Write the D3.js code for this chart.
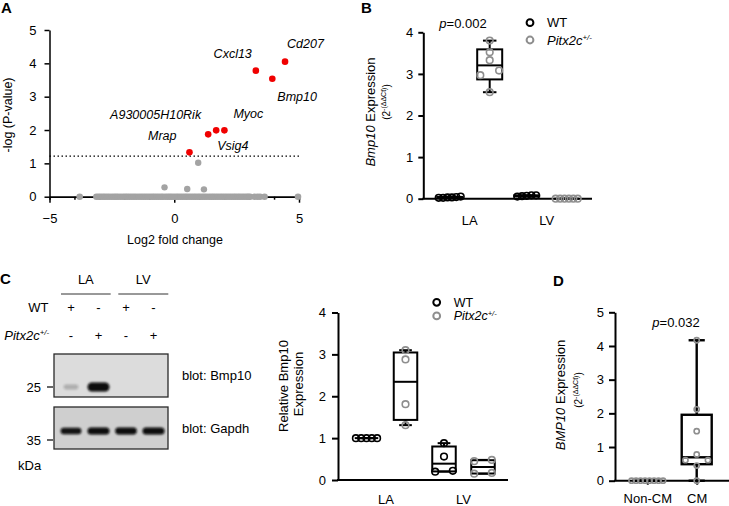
<!DOCTYPE html>
<html>
<head>
<meta charset="utf-8">
<script src="https://cdn.jsdelivr.net/npm/d3@7"></script>
<style>
  body { margin: 0; background: #fff; }
  svg { font-family: Arial, "Liberation Sans", sans-serif; }
</style>
</head>
<body>
<svg width="729" height="506"></svg>
<script>
///////////////////////////////////////////
// Data

// A: volcano plot (log2 fold change, -log P)
var sigGenes = ["Cd207", "Cxcl13", "Bmp10", "Myoc", "A930005H10Rik", "Vsig4", "Mrap"];
var sigFC    = [4.44, 3.27, 3.93, 2.01, 1.68, 1.36, 0.61];
var sigLogP  = [4.05, 3.78, 3.54, 1.99, 1.99, 1.87, 1.33];
var nsFC     = [0.96, -0.39, 0.52, 1.19];
var nsLogP   = [1.02, 0.28, 0.23, 0.22];
var zeroFC   = [-3.79, -3.12, -3.03, -2.95, -2.86, -2.78, -2.69, -2.6, -2.5, -2.41, -2.33,
                -2.25, -2.15, -2.05, -1.96, -1.88, -1.79, -1.7, -1.61, -1.52, -1.42, -1.33,
                -1.24, -1.15, -1.06, -0.97, -0.88, -0.8, -0.71, -0.62, -0.53, -0.45, -0.35,
                -0.26, -0.18, -0.1, -0.01, 0.08, 0.16, 0.25, 0.34, 0.43, 0.51, 0.6, 0.69,
                0.78, 0.86, 0.95, 1.03, 1.12, 1.21, 1.3, 1.4, 1.49, 1.57, 1.66, 1.75, 1.84,
                1.93, 2.02, 2.11, 2.2, 2.29, 2.38, 2.46, 2.55, 2.63, 2.72, 2.81, 2.9, 2.97,
                3.04, 3.22, 3.34, 3.44, 3.62, 4.96];
var pThreshold = 1.22;

// B: Bmp10 qPCR (2^-ddCt)
var tissues = ["LA", "LV"];
var genotypes = ["WT", "Pitx2c"];
var bWT_LA = [0.02, 0.03, 0.05, 0.02, 0.04, 0.03];
var bKO_LA = [3.80, 3.52, 3.33, 3.08, 2.97, 2.56];
var bWT_LV = [0.05, 0.08, 0.07, 0.06, 0.08];
var bKO_LV = [0, 0, 0, 0, 0, 0];
var bPvalue = "0.002";

// C: western blot quantification
var cWT_LA = [1, 1, 1, 1, 1];
var cKO_LA = [3.10, 2.88, 1.81, 1.31];
var cWT_LV = [0.88, 0.56, 0.22, 0.20];
var cKO_LV = [0.48, 0.45, 0.17, 0.15];
var lanes = [1, 2, 3, 4];
var laneWT = ["+", "-", "+", "-"];
var laneKO = ["-", "+", "-", "+"];
var bmp10Band = [0.1, 1, 0, 0];
var gapdhBand = [0.85, 1, 0.95, 1];

// D: human BMP10 qPCR
var cellTypes = ["Non-CM", "CM"];
var dNonCM = [0, 0, 0, 0, 0, 0, 0, 0];
var dCM = [4.17, 2.12, 1.47, 0.78, 0.61, 0.61, 0.45, 0];
var dPvalue = "0.032";

///////////////////////////////////////////
// Setup
var svg = d3.select("svg");
var BLACK = "#000", GREY = "#8e8e8e", RED = "#f00000";
var fmt = d3.format("d");
var defs = svg.append("defs");
defs.append("filter").attr("id", "blur")
  .attr("x", "-50%").attr("y", "-100%").attr("width", "200%").attr("height", "300%")
  .append("feGaussianBlur").attr("stdDeviation", 1.2);

function panelLabel(t, x, y) {
  svg.append("text").attr("x", x).attr("y", y)
    .attr("font-weight", "bold").attr("font-size", 15).text(t);
}

function styleAxis(g, w) {
  g.attr("font-family", null).attr("font-size", null);
  g.select(".domain").attr("stroke-width", w);
  g.selectAll(".tick line").attr("stroke-width", w);
  g.selectAll(".tick text").attr("font-size", 13).attr("fill", BLACK);
}

// rotated y title: parts = [[text, italic]]
function yTitle(x, y, size, parts) {
  var t = svg.append("text").attr("transform", "translate(" + x + "," + y + ") rotate(-90)")
    .attr("text-anchor", "middle").attr("font-size", size);
  parts.forEach(function(p) {
    t.append("tspan").attr("font-style", p[1] ? "italic" : null).text(p[0]);
  });
  return t;
}

// ddCt subtitle with superscript
function ddCt(x, y) {
  var t = svg.append("text").attr("transform", "translate(" + x + "," + y + ") rotate(-90)")
    .attr("text-anchor", "middle").attr("font-size", 10);
  t.append("tspan").text("(2");
  t.append("tspan").attr("font-size", 7).attr("dy", -4).text("-(\u0394\u0394Ct)");
  t.append("tspan").attr("dy", 4).text(")");
}

function pitxText(sel, size) {
  sel.append("tspan").attr("font-style", "italic").text("Pitx2c");
  sel.append("tspan").attr("font-style", "italic").attr("font-size", size * 0.6)
    .attr("dy", -size * 0.38).text("+/-");
}

function legend(x, y, gap, size) {
  [[BLACK, "WT"], [GREY, null]].forEach(function(d, i) {
    svg.append("circle").attr("cx", x).attr("cy", y + i * gap).attr("r", 3.4)
      .attr("fill", "none").attr("stroke", d[0]).attr("stroke-width", 2);
    var t = svg.append("text").attr("x", x + 17).attr("y", y + i * gap + size * 0.35).attr("font-size", size);
    if (d[1]) t.text(d[1]); else pitxText(t, size);
  });
}

// quartile, (n+1) method
function quant(s, p) {
  var n = s.length, h = (n + 1) * p;
  if (h <= 1) return s[0];
  if (h >= n) return s[n - 1];
  var lo = Math.floor(h);
  return s[lo - 1] + (h - lo) * (s[lo] - s[lo - 1]);
}

// box-and-whisker (min-max) with scattered points
function boxGroup(g, y, cx, vals, o) {
  var s = vals.slice().sort(d3.ascending);
  var q1 = quant(s, 0.25), med = quant(s, 0.5), q3 = quant(s, 0.75);
  var lo = s[0], hi = s[s.length - 1], w = o.w;
  var bx = g.append("g").attr("stroke", BLACK).attr("stroke-width", o.lw || 2).attr("fill", "none");
  bx.append("line").attr("x1", cx).attr("x2", cx).attr("y1", y(lo)).attr("y2", y(q1));
  bx.append("line").attr("x1", cx).attr("x2", cx).attr("y1", y(q3)).attr("y2", y(hi));
  [lo, hi].forEach(function(v) {
    bx.append("line").attr("x1", cx - w * 0.27).attr("x2", cx + w * 0.27).attr("y1", y(v)).attr("y2", y(v));
  });
  bx.append("rect").attr("x", cx - w / 2).attr("y", y(q3)).attr("width", w).attr("height", Math.max(0, y(q1) - y(q3)));
  bx.append("line").attr("x1", cx - w / 2).attr("x2", cx + w / 2).attr("y1", y(med)).attr("y2", y(med));

  // group points that sit in the same row, spread them sideways
  var groups = [], cur = null;
  s.forEach(function(v) {
    if (cur && Math.abs(y(v) - y(cur[0])) < o.r * 2) cur.push(v);
    else { cur = [v]; groups.push(cur); }
  });
  var pts = [];
  groups.forEach(function(gr) {
    var n = gr.length;
    var sp = n > 1 ? Math.max(o.sp, 0.75 * w / (n - 1)) : 0;
    gr.forEach(function(v, i) { pts.push([cx + (i - (n - 1) / 2) * sp, y(v)]); });
  });
  g.selectAll(null).data(pts).enter().append("circle")
    .attr("cx", function(d) { return d[0]; }).attr("cy", function(d) { return d[1]; })
    .attr("r", o.r).attr("fill", "none").attr("stroke", o.color).attr("stroke-width", 1.6);
}

///////////////////////////////////////////
// Panel A: volcano
panelLabel("A", 1, 13);
var xA = d3.scaleLinear().domain([-5, 5]).range([49.5, 299]);
var yA = d3.scaleLinear().domain([0, 5]).range([196.7, 30]);
var gA = svg.append("g");

gA.append("g").attr("transform", "translate(0,196.7)")
  .call(d3.axisBottom(xA).tickValues(d3.range(-5, 6)).tickSize(3).tickSizeOuter(0).tickFormat(""))
  .call(styleAxis, 1.5);
gA.append("g").attr("transform", "translate(0,196.7)")
  .call(d3.axisBottom(xA).tickValues([-5, 0, 5]).tickSize(6).tickPadding(11).tickSizeOuter(0).tickFormat(fmt))
  .call(styleAxis, 1.5);
gA.append("g").attr("transform", "translate(49.5,0)")
  .call(d3.axisLeft(yA).tickValues(d3.range(0, 6)).tickSize(5).tickPadding(8).tickSizeOuter(0).tickFormat(fmt))
  .call(styleAxis, 1.5);

gA.append("line").attr("x1", xA(-5)).attr("x2", xA(5)).attr("y1", yA(pThreshold)).attr("y2", yA(pThreshold))
  .attr("stroke", BLACK).attr("stroke-width", 1.2).attr("stroke-dasharray", "1.5,2.5");

gA.selectAll(".zero").data(zeroFC).enter().append("circle")
  .attr("cx", function(d) { return xA(d); }).attr("cy", yA(0)).attr("r", 3.3).attr("fill", "#a3a3a3");
gA.selectAll(".ns").data(nsFC).enter().append("circle")
  .attr("cx", function(d) { return xA(d); }).attr("cy", function(d, i) { return yA(nsLogP[i]); })
  .attr("r", 3.2).attr("fill", "#a3a3a3");
gA.selectAll(".sig").data(sigFC).enter().append("circle")
  .attr("cx", function(d) { return xA(d); }).attr("cy", function(d, i) { return yA(sigLogP[i]); })
  .attr("r", 3.3).attr("fill", RED);

// label offsets from each point
var labelOff = {
  "Cd207": [2, -14, "start"], "Cxcl13": [-4, -13, "end"], "Bmp10": [5, 22, "start"],
  "Myoc": [9, -12, "start"], "A930005H10Rik": [-15, -11, "end"],
  "Vsig4": [9, 16, "start"], "Mrap": [-13, -12, "end"]
};
sigGenes.forEach(function(gname, i) {
  var o = labelOff[gname];
  gA.append("text").attr("x", xA(sigFC[i]) + o[0]).attr("y", yA(sigLogP[i]) + o[1])
    .attr("text-anchor", o[2]).attr("font-style", "italic").attr("font-size", 12.5).text(gname);
});
yTitle(12, 115, 12.5, [["-log (P-value)", false]]);
svg.append("text").attr("x", 175).attr("y", 243.5).attr("text-anchor", "middle")
  .attr("font-size", 12.5).text("Log2 fold change");

///////////////////////////////////////////
// Panel B
panelLabel("B", 361, 13);
var yB = d3.scaleLinear().domain([0, 4]).range([198.7, 32.3]);
var xB = d3.scalePoint().domain(tissues).range([469.7, 546.7]);
var offB = d3.scalePoint().domain(genotypes).range([-20, 20]);
var gB = svg.append("g");
gB.append("g").attr("transform", "translate(423.3,0)")
  .call(d3.axisLeft(yB).tickValues(d3.range(0, 5)).tickSize(5).tickPadding(5).tickSizeOuter(0).tickFormat(fmt))
  .call(styleAxis, 2);
gB.append("line").attr("x1", 422.3).attr("x2", 592).attr("y1", yB(0)).attr("y2", yB(0))
  .attr("stroke", BLACK).attr("stroke-width", 2);
tissues.forEach(function(t) {
  gB.append("text").attr("x", xB(t)).attr("y", 225).attr("text-anchor", "middle").attr("font-size", 13).text(t);
});
var optB = { w: 25, r: 3.3, sp: 4.4 };
boxGroup(gB, yB, xB("LA") + offB("WT"), bWT_LA, Object.assign({ color: BLACK }, optB));
boxGroup(gB, yB, xB("LA") + offB("Pitx2c"), bKO_LA, Object.assign({ color: GREY }, optB));
boxGroup(gB, yB, xB("LV") + offB("WT"), bWT_LV, Object.assign({ color: BLACK }, optB));
boxGroup(gB, yB, xB("LV") + offB("Pitx2c"), bKO_LV, Object.assign({ color: GREY }, optB));
var pB = svg.append("text").attr("x", 463).attr("y", 27.5).attr("text-anchor", "middle").attr("font-size", 13);
pB.append("tspan").attr("font-style", "italic").text("p");
pB.append("tspan").text("=" + bPvalue);
legend(530, 22.7, 17.3, 13);
yTitle(374.5, 112, 13, [["Bmp10", true], [" Expression", false]]);
ddCt(390, 102);

///////////////////////////////////////////
// Panel C: blot
panelLabel("C", 0, 284);
var xLane = d3.scalePoint().domain(lanes).range([71, 153.5]);
[["LA", 61, 110.7], ["LV", 118.3, 168.3]].forEach(function(d) {
  svg.append("text").attr("x", (d[1] + d[2]) / 2).attr("y", 284).attr("text-anchor", "middle")
    .attr("font-size", 13).text(d[0]);
  svg.append("line").attr("x1", d[1]).attr("x2", d[2]).attr("y1", 294).attr("y2", 294)
    .attr("stroke", "#333").attr("stroke-width", 1);
});
svg.append("text").attr("x", 48.5).attr("y", 312).attr("text-anchor", "end").attr("font-size", 13).text("WT");
pitxText(svg.append("text").attr("x", 49).attr("y", 339.5).attr("text-anchor", "end").attr("font-size", 13), 13);
lanes.forEach(function(l, i) {
  svg.append("text").attr("x", xLane(l)).attr("y", 312).attr("text-anchor", "middle").attr("font-size", 13).text(laneWT[i]);
  svg.append("text").attr("x", xLane(l)).attr("y", 339.5).attr("text-anchor", "middle").attr("font-size", 13).text(laneKO[i]);
});

function blot(y0, h, bg, bandY, bandH, bands, label, marker, markerY) {
  var g = svg.append("g");
  g.append("rect").attr("x", 54).attr("y", y0).attr("width", 114).attr("height", h)
    .attr("fill", bg).attr("stroke", "#2a2a2a").attr("stroke-width", 1.3);
  bands.forEach(function(v, i) {
    if (v <= 0) return;
    var bw = 14 + 8 * v, bh = bandH * (0.5 + 0.5 * v);
    g.append("rect").attr("x", xLane(lanes[i]) - bw / 2).attr("y", bandY - bh / 2)
      .attr("width", bw).attr("height", bh).attr("rx", bh / 2)
      .attr("fill", "#0a0a0a").attr("opacity", Math.min(1, 0.12 + v)).attr("filter", "url(#blur)");
  });
  svg.append("text").attr("x", 182).attr("y", y0 + h / 2 + 4.5).attr("font-size", 13).text(label);
  svg.append("text").attr("x", 41).attr("y", markerY + 4.5).attr("text-anchor", "end").attr("font-size", 13).text(marker);
  svg.append("line").attr("x1", 47).attr("x2", 53).attr("y1", markerY).attr("y2", markerY)
    .attr("stroke", BLACK).attr("stroke-width", 1.2);
}
blot(354, 43, "#dcdcdc", 387, 9, bmp10Band, "blot: Bmp10", "25", 387);
blot(407, 42, "#cfcfcf", 431, 7, gapdhBand, "blot: Gapdh", "35", 440);
svg.append("text").attr("x", 18).attr("y", 470).attr("font-size", 13).text("kDa");

///////////////////////////////////////////
// Panel C: quantification
var yC = d3.scaleLinear().domain([0, 4]).range([480, 312.5]);
var xC = d3.scalePoint().domain(tissues).range([386, 463.5]);
var offC = d3.scalePoint().domain(genotypes).range([-19.5, 19.5]);
var gC = svg.append("g");
gC.append("g").attr("transform", "translate(338,0)")
  .call(d3.axisLeft(yC).tickValues(d3.range(0, 5)).tickSize(6).tickPadding(6).tickSizeOuter(0).tickFormat(fmt))
  .call(styleAxis, 2);
gC.append("line").attr("x1", 337).attr("x2", 508).attr("y1", yC(0)).attr("y2", yC(0))
  .attr("stroke", BLACK).attr("stroke-width", 2);
tissues.forEach(function(t) {
  gC.append("text").attr("x", xC(t)).attr("y", 504).attr("text-anchor", "middle").attr("font-size", 13).text(t);
});
var optC = { w: 23.5, r: 3.3, sp: 5.3 };
boxGroup(gC, yC, xC("LA") + offC("WT"), cWT_LA, Object.assign({ color: BLACK }, optC));
boxGroup(gC, yC, xC("LA") + offC("Pitx2c"), cKO_LA, Object.assign({ color: GREY }, optC));
boxGroup(gC, yC, xC("LV") + offC("WT"), cWT_LV, Object.assign({ color: BLACK }, optC));
boxGroup(gC, yC, xC("LV") + offC("Pitx2c"), cKO_LV, Object.assign({ color: GREY }, optC));
legend(436.7, 302.3, 13.6, 12.5);
yTitle(287.5, 386, 13, [["Relative Bmp10", false]]);
yTitle(302.5, 384, 13, [["Expression", false]]);

///////////////////////////////////////////
// Panel D
panelLabel("D", 553, 285.5);
var yD = d3.scaleLinear().domain([0, 5]).range([480.7, 312.3]);
var xD = d3.scalePoint().domain(cellTypes).range([647.3, 696.7]);
var gD = svg.append("g");
gD.append("g").attr("transform", "translate(615,0)")
  .call(d3.axisLeft(yD).tickValues(d3.range(0, 6)).tickSize(6).tickPadding(5).tickSizeOuter(0).tickFormat(fmt))
  .call(styleAxis, 2);
gD.append("g").attr("transform", "translate(0," + yD(0) + ")")
  .call(d3.axisBottom(xD).tickSize(4).tickPadding(9).tickSizeOuter(0))
  .call(styleAxis, 2)
  .call(function(g) { g.select(".domain").remove(); });
gD.append("line").attr("x1", 614).attr("x2", 729).attr("y1", yD(0)).attr("y2", yD(0))
  .attr("stroke", BLACK).attr("stroke-width", 2);
var optD = { w: 30, r: 2.6, sp: 4.5, color: GREY, lw: 2.4 };
boxGroup(gD, yD, xD("Non-CM"), dNonCM, optD);
boxGroup(gD, yD, xD("CM"), dCM, optD);
var pD = svg.append("text").attr("x", 676).attr("y", 326.5).attr("text-anchor", "middle").attr("font-size", 13);
pD.append("tspan").attr("font-style", "italic").text("p");
pD.append("tspan").text("=" + dPvalue);
yTitle(564.5, 395, 13, [["BMP10", true], [" Expression", false]]);
ddCt(581.5, 390);
</script>
</body>
</html>
